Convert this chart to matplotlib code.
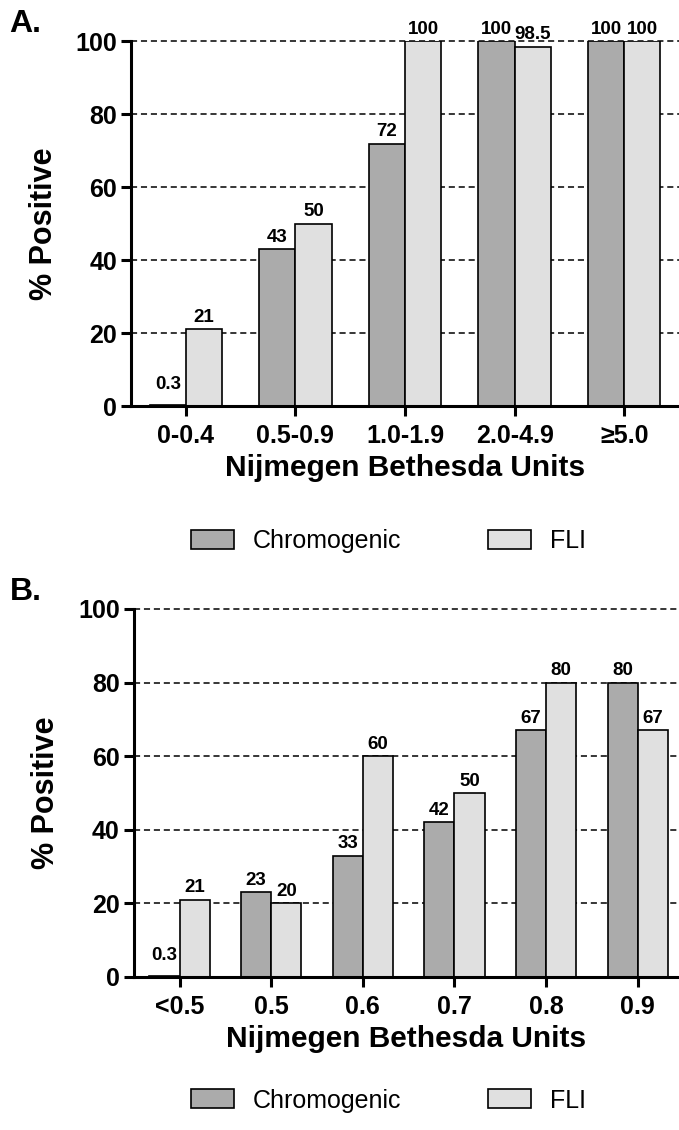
import numpy as np
import matplotlib
matplotlib.use("Agg")
import matplotlib.pyplot as plt
from matplotlib.patches import Patch

plt.rcParams['font.family'] = ['Liberation Sans', 'DejaVu Sans']

# panel A
cats_a = ['0-0.4', '0.5-0.9', '1.0-1.9', '2.0-4.9', '\u22655.0']
chromo_a = [0.3, 43, 72, 100, 100]
fli_a = [21, 50, 100, 98.5, 100]
lab_chromo_a = ['0.3', '43', '72', '100', '100']
lab_fli_a = ['21', '50', '100', '98.5', '100']

# panel B
cats_b = ['<0.5', '0.5', '0.6', '0.7', '0.8', '0.9']
chromo_b = [0.3, 23, 33, 42, 67, 80]
fli_b = [21, 20, 60, 50, 80, 67]
lab_chromo_b = ['0.3', '23', '33', '42', '67', '80']
lab_fli_b = ['21', '20', '60', '50', '80', '67']

c_chromo = '#ababab'
c_fli = '#e0e0e0'
w = 0.33


def draw_panel(ax, cats, chromo, fli, lab_c, lab_f, xmax):
    x = np.arange(len(cats))
    ax.bar(x - w / 2, chromo, w, color=c_chromo, edgecolor='black', linewidth=1.2, zorder=3)
    ax.bar(x + w / 2, fli, w, color=c_fli, edgecolor='black', linewidth=1.2, zorder=3)
    for xi, v, t in zip(x, chromo, lab_c):
        ax.annotate(t, (xi - w / 2, max(v, 2.5)), xytext=(0, 2.5), textcoords='offset points',
                    ha='center', va='bottom', fontsize=13.5, fontweight='bold', annotation_clip=False)
    for xi, v, t in zip(x, fli, lab_f):
        ax.annotate(t, (xi + w / 2, max(v, 2.5)), xytext=(0, 2.5), textcoords='offset points',
                    ha='center', va='bottom', fontsize=13.5, fontweight='bold', annotation_clip=False)

    ax.set_xlim(-0.5, xmax)
    ax.set_ylim(0, 100)
    ax.set_yticks([0, 20, 40, 60, 80, 100])
    ax.set_xticks(x)
    ax.set_xticklabels(cats)
    for y in [20, 40, 60, 80, 100]:
        ax.axhline(y, color='black', linestyle=(0, (4, 2.5)), linewidth=1.1, zorder=1, clip_on=False)
    for s in ['top', 'right']:
        ax.spines[s].set_visible(False)
    for s in ['left', 'bottom']:
        ax.spines[s].set_linewidth(2.2)
        ax.spines[s].set_zorder(4)
    ax.tick_params(width=2.2, length=7, labelsize=18, pad=3)
    ax.tick_params(axis='x', pad=6)
    for t in ax.get_xticklabels() + ax.get_yticklabels():
        t.set_fontweight('bold')
    ax.set_ylabel('% Positive', fontsize=22, fontweight='bold', labelpad=12)
    ax.set_xlabel('Nijmegen Bethesda Units', fontsize=21.5, fontweight='bold', labelpad=4)


fig = plt.figure(figsize=(6.79, 11.3), dpi=100)

ax1 = fig.add_axes([0.193, 0.6407, 0.807, 0.3226])
draw_panel(ax1, cats_a, chromo_a, fli_a, lab_chromo_a, lab_fli_a, 4.5)

ax2 = fig.add_axes([0.197, 0.1354, 0.803, 0.3257])
draw_panel(ax2, cats_b, chromo_b, fli_b, lab_chromo_b, lab_fli_b, 5.45)

handles = [Patch(facecolor=c_chromo, edgecolor='black', linewidth=1.2, label='Chromogenic'),
           Patch(facecolor=c_fli, edgecolor='black', linewidth=1.2, label='FLI')]
for yy in [0.521, 0.026]:
    fig.legend(handles=handles, loc='center', bbox_to_anchor=(0.572, yy), ncol=2, frameon=False,
               fontsize=18, handlelength=1.7, handleheight=0.8, columnspacing=3.5, handletextpad=0.75)

fig.text(0.014, 0.979, 'A.', fontsize=23, fontweight='bold', ha='left', va='center')
fig.text(0.014, 0.476, 'B.', fontsize=23, fontweight='bold', ha='left', va='center')

fig.savefig('out.png', dpi=100)
